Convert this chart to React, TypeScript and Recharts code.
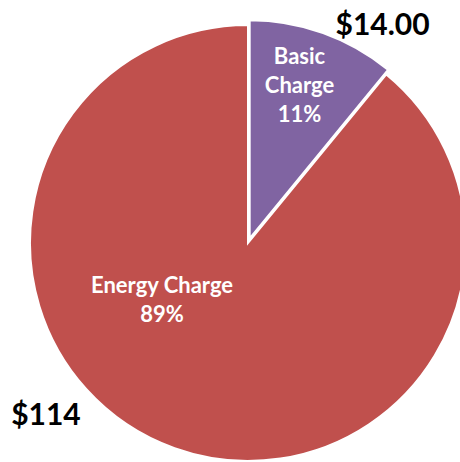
import { PieChart, Pie, Cell } from 'recharts';

const categories = ['Basic Charge', 'Energy Charge'];
const amounts = [14, 114];
const amountLabels = ['$14.00', '$114'];
const percentLabels = ['11%', '89%'];
const nameLines = [['Basic', 'Charge'], ['Energy Charge']];

const data = categories.map((name, i) => ({ name, value: amounts[i] }));

const COLORS = ['#8064A2', '#C0504D'];
const FONT = 'Lato, "Open Sans", sans-serif';

const CX = 248;
const CY = 243;
const RADIUS = 218;
const EXPLODE = 5;

// where the labels sit, as polar (math angle in degrees, radius fraction)
const innerPos = [
  { angle: 72, r: 0.74 },
  { angle: 213, r: 0.47 },
];
const outerPos = [
  { angle: 58.3, r: 1.16 },
  { angle: 220, r: 1.21 },
];

const total = amounts.reduce((a, b) => a + b, 0);
const basicMid = ((90 - (360 * amounts[0]) / total / 2) * Math.PI) / 180;
const explodeDx = EXPLODE * Math.cos(basicMid);
const explodeDy = -EXPLODE * Math.sin(basicMid);

const polar = (cx: number, cy: number, r: number, deg: number) => {
  const a = (deg * Math.PI) / 180;
  return { x: cx + r * Math.cos(a), y: cy - r * Math.sin(a) };
};

function renderLabel(only: number) {
  return (props: any) => {
    const { cx, cy, outerRadius, index } = props;
    if (index !== only) return null;
    const inner = polar(cx, cy, outerRadius * innerPos[index].r, innerPos[index].angle);
    const outer = polar(cx, cy, outerRadius * outerPos[index].r, outerPos[index].angle);
    const lines = [...nameLines[index], percentLabels[index]];
    const lineH = 29;
    const startY = inner.y - ((lines.length - 1) * lineH) / 2;
    return (
      <g>
        {lines.map((t, i) => (
          <text
            key={i}
            x={inner.x}
            y={startY + i * lineH}
            textAnchor="middle"
            dominantBaseline="central"
            fill="#ffffff"
            fontFamily={FONT}
            fontWeight="bold"
            fontSize={22}
          >
            {t}
          </text>
        ))}
        <text
          x={outer.x}
          y={outer.y}
          textAnchor="middle"
          dominantBaseline="central"
          fill="#000000"
          fontFamily={FONT}
          fontWeight="bold"
          fontSize={30}
        >
          {amountLabels[index]}
        </text>
      </g>
    );
  };
}

export default function App() {
  return (
    <div style={{ position: 'absolute', left: 0, top: 0, width: 460, height: 462, background: '#fff' }}>
      <PieChart width={460} height={462} margin={{ top: 0, right: 0, bottom: 0, left: 0 }}>
        <Pie
          data={data}
          dataKey="value"
          nameKey="name"
          cx={CX}
          cy={CY}
          outerRadius={RADIUS}
          startAngle={90}
          endAngle={-270}
          labelLine={false}
          label={renderLabel(1)}
          isAnimationActive={false}
        >
          <Cell fill="transparent" stroke="none" />
          <Cell fill={COLORS[1]} stroke="#ffffff" strokeWidth={2} />
        </Pie>
        <Pie
          data={data}
          dataKey="value"
          nameKey="name"
          cx={CX + explodeDx}
          cy={CY + explodeDy}
          outerRadius={RADIUS}
          startAngle={90}
          endAngle={-270}
          labelLine={false}
          label={renderLabel(0)}
          isAnimationActive={false}
        >
          <Cell fill={COLORS[0]} stroke="#ffffff" strokeWidth={2} />
          <Cell fill="transparent" stroke="none" />
        </Pie>
      </PieChart>
    </div>
  );
}
